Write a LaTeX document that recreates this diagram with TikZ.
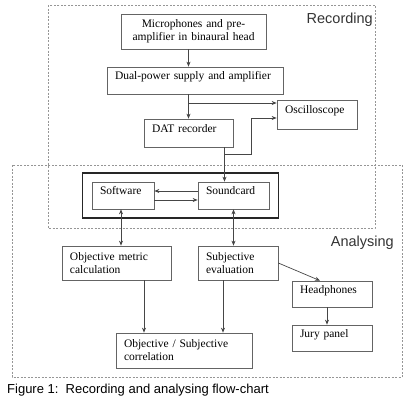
\documentclass[tikz,border=0pt]{standalone}
\usepackage{fontspec}
\setmainfont{Liberation Serif}
\setsansfont{Liberation Sans}
\usepackage{xcolor}
\definecolor{boxline}{RGB}{100,100,100}
\definecolor{arrowline}{RGB}{70,70,70}
\definecolor{dashline}{RGB}{150,150,150}
\usetikzlibrary{arrows.meta,positioning,fit,calc}

\begin{document}
\begin{tikzpicture}[
    x=1pt, y=-1pt,
    box/.style={rectangle, draw=boxline, line width=0.7pt, inner xsep=8pt, inner ysep=1.5pt, align=left, font=\fontsize{11.5}{13}\selectfont},
    raised/.style={text depth=9.5pt},
    region/.style={draw=dashline, line width=0.6pt, dash pattern=on 2pt off 1.5pt},
    regionlabel/.style={font=\sffamily\fontsize{14.5}{16}\selectfont, text=black!80, inner sep=0pt},
    groupbox/.style={rectangle, draw=black!85, line width=1.6pt, inner xsep=9pt, inner ysep=8.5pt},
    arrow/.style={-{Stealth[length=5pt,width=4pt]}, draw=arrowline, line width=0.7pt},
    twoway/.style={{Stealth[length=5pt,width=4pt]}-{Stealth[length=5pt,width=4pt]}, draw=arrowline, line width=0.7pt},
    line/.style={draw=arrowline, line width=0.7pt}
]
\useasboundingbox (0,0) rectangle (416,405);

% Regions
\draw[region] (48,5) rectangle (375,228);
\draw[region] (12,165) rectangle (402,377);
\node[regionlabel, anchor=east] (reclabel) at (373,20) {Recording};
\node[regionlabel, anchor=east] (analabel) at (394,243) {Analysing};

% Recording chain
\node[box, text width=129pt, minimum height=35pt, align=center] (mic) at (193.5,31.5) {Microphones and pre-\\amplifier in binaural head};
\node[box, raised, text width=160pt, minimum height=27pt] (dual) at (195,80.5) {Dual-power supply and amplifier};
\node[box, raised, text width=64pt, minimum height=29pt] (osc) at (317,114.5) {Oscilloscope};
\node[box, raised, text width=73pt, minimum height=28pt] (dat) at (188.5,133) {DAT recorder};

% Sound card group
\node[box, raised, text width=46pt, minimum height=27pt] (sw) at (123,195.5) {Software};
\node[box, raised, text width=55pt, minimum height=27pt] (snd) at (233.5,195.5) {Soundcard};
\node[groupbox, fit=(sw)(snd)] (group) {};

% Analysing
\node[box, text width=93pt, minimum height=34pt] (obj) at (116.5,263) {Objective metric\\calculation};
\node[box, text width=64pt, minimum height=34pt] (subj) at (238,263) {Subjective\\evaluation};
\node[box, raised, text width=64pt, minimum height=26pt] (head) at (332,294) {Headphones};
\node[box, raised, text width=64pt, minimum height=26pt] (jury) at (332,338) {Jury panel};
\node[box, text width=120pt, minimum height=35pt] (corr) at (184,350.5) {Objective / Subjective\\correlation};

% Central junction below the DAT recorder
\coordinate (jn) at (224.5,154);

% Arrows
\draw[arrow] (mic.south -| dat.north) -- (dual.north -| dat.north);
\draw[arrow] (dual.south -| dat.north) -- (dat.north);
\draw[arrow] ([yshift=11.5pt]osc.west -| dat.north) -- ([yshift=11.5pt]osc.west);
\draw[line] (dat.south -| jn) -- (jn);
\draw[arrow] (jn) -- ++(26.5,0) |- ([yshift=-3.5pt]osc.west);
\draw[arrow] (jn) -- (jn |- snd.north);
\draw[arrow] ([yshift=4.5pt]snd.west) -- ([yshift=4.5pt]sw.east);
\draw[arrow] ([yshift=-4.5pt]sw.east) -- ([yshift=-4.5pt]snd.west);
\draw[twoway] ([xshift=-2pt]sw.south) -- ([xshift=-2pt]sw.south |- obj.north);
\draw[twoway] (snd.south) -- (snd.south |- subj.north);
\draw[arrow] (subj.east) -- ([xshift=-12pt]head.north);
\draw[arrow] ([xshift=-5pt]head.south) -- ([xshift=-5pt]jury.north);
\draw[arrow] ([xshift=27.5pt]obj.south) -- ([xshift=27.5pt]obj.south |- corr.north);
\draw[arrow] ([xshift=-15pt]subj.south) -- ([xshift=-15pt]subj.south |- corr.north);

% Caption
\node[font=\sffamily\fontsize{13}{15}\selectfont, anchor=west, inner sep=0pt] (caption) at (7,390) {Figure 1:\ \ Recording and analysing flow-chart};

\end{tikzpicture}
\end{document}
